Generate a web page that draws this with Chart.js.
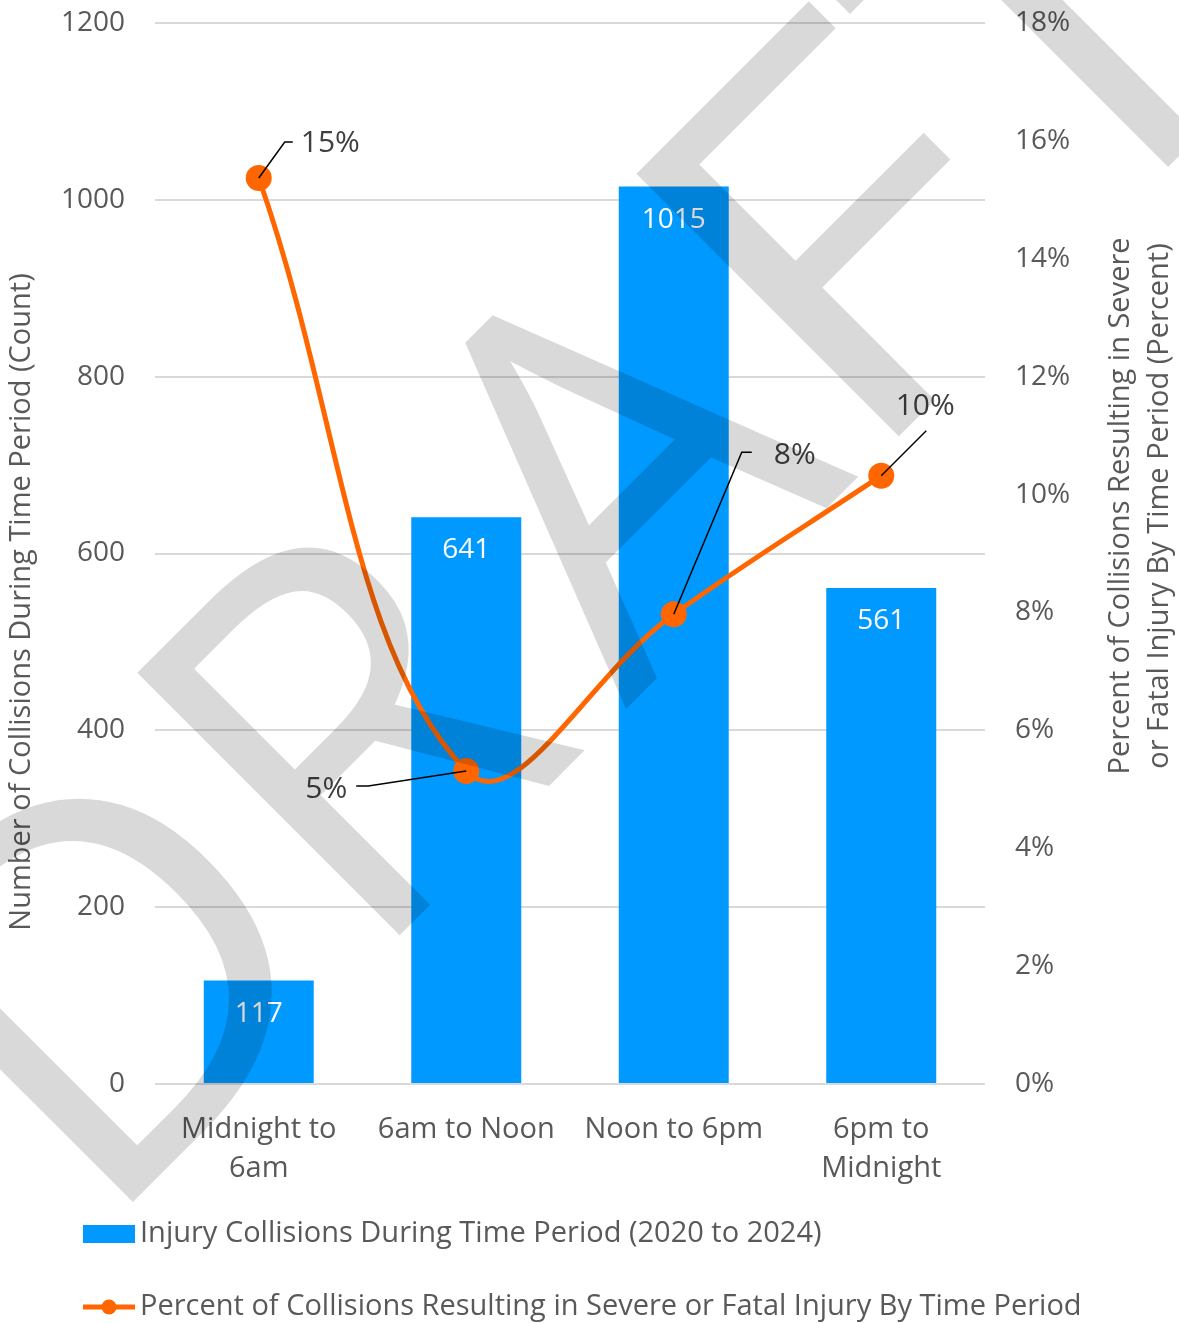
<!DOCTYPE html>
<html>
<head>
<meta charset="utf-8">
<script src="https://cdn.jsdelivr.net/npm/chart.js"></script>
<style>
  body { margin: 0; background: #fff; }
  #wrap { width: 1179px; height: 1323px; }
</style>
</head>
<body>
<div id="wrap"><canvas id="myChart" width="1179" height="1323"></canvas></div>
<script>
// data
var periods = [['Midnight to', '6am'], '6am to Noon', 'Noon to 6pm', ['6pm to', 'Midnight']];
var collisionCounts = [117, 641, 1015, 561];
var severePercent = [15.37, 5.31, 7.97, 10.32];
var percentLabels = ['15%', '5%', '8%', '10%'];

var countTicks = { min: 0, max: 1200, step: 200 };
var percentTicks = { min: 0, max: 18, step: 2 };

var barName = 'Injury Collisions During Time Period (2020 to 2024)';
var lineName = 'Percent of Collisions Resulting in Severe or Fatal Injury By Time Period';
var leftTitle = 'Number of Collisions During Time Period (Count)';
var rightTitle = ['Percent of Collisions Resulting in Severe', 'or Fatal Injury By Time Period (Percent)'];
var watermark = 'DRAFT';

var BLUE = '#0099ff';
var ORANGE = '#ff6600';
var GREY_TEXT = '#595959';
var FONT = '"Open Sans", sans-serif';

// where each percent label sits relative to its point (leader line elbow, end, text anchor)
var labelPlacement = [
  { elbow: [26, -36], end: [34, -36], text: [42, -35], align: 'left' },
  { elbow: [-98, 15], end: [-110, 15], text: [-119, 18], align: 'right' },
  { elbow: [68, -162], end: [78, -162], text: [100, -159], align: 'left' },
  { elbow: null, end: [45, -45], text: [44, -69], align: 'center' }
];
// extra spacing pushed in front of each watermark letter, and a width stretch per letter
var watermarkShift = [0, 0, 50, 47, 98];
var watermarkStretch = [1, 1, 1, 1.18, 1];

Chart.defaults.font.family = FONT;
Chart.defaults.color = GREY_TEXT;

// bar value labels, percent labels with leader lines, axis titles, legend and the watermark
var extras = {
  id: 'extras',
  afterDatasetsDraw: function (chart) {
    var ctx = chart.ctx;
    var bars = chart.getDatasetMeta(1).data;
    var pts = chart.getDatasetMeta(0).data;

    ctx.save();
    ctx.font = '28px ' + FONT;
    ctx.fillStyle = '#ffffff';
    ctx.textAlign = 'center';
    ctx.textBaseline = 'middle';
    bars.forEach(function (b, i) {
      ctx.fillText(String(collisionCounts[i]), b.x, b.y + 33);
    });

    // percent labels
    pts.forEach(function (p, i) {
      var pl = labelPlacement[i];
      ctx.strokeStyle = '#000000';
      ctx.lineWidth = 1.5;
      ctx.beginPath();
      ctx.moveTo(p.x, p.y);
      if (pl.elbow) ctx.lineTo(p.x + pl.elbow[0], p.y + pl.elbow[1]);
      ctx.lineTo(p.x + pl.end[0], p.y + pl.end[1]);
      ctx.stroke();
      ctx.font = '500 30px ' + FONT;
      ctx.fillStyle = '#404040';
      ctx.textAlign = pl.align;
      ctx.fillText(percentLabels[i], p.x + pl.text[0], p.y + pl.text[1]);
    });
    ctx.restore();
  },
  afterDraw: function (chart) {
    var ctx = chart.ctx;
    ctx.save();

    // axis titles
    ctx.fillStyle = GREY_TEXT;
    ctx.font = '29px ' + FONT;
    ctx.textAlign = 'center';
    ctx.textBaseline = 'middle';
    ctx.save();
    ctx.translate(22, 602);
    ctx.rotate(-Math.PI / 2);
    ctx.fillText(leftTitle, 0, 0);
    ctx.restore();
    ctx.save();
    ctx.translate(1121, 506);
    ctx.rotate(-Math.PI / 2);
    ctx.fillText(rightTitle[0], 0, 0);
    ctx.fillText(rightTitle[1], 0, 39);
    ctx.restore();

    // legend
    ctx.textAlign = 'left';
    ctx.fillStyle = BLUE;
    ctx.fillRect(83, 1225, 52, 18);
    ctx.strokeStyle = ORANGE;
    ctx.lineWidth = 5;
    ctx.beginPath();
    ctx.moveTo(83, 1307);
    ctx.lineTo(135, 1307);
    ctx.stroke();
    ctx.fillStyle = ORANGE;
    ctx.beginPath();
    ctx.arc(109, 1307, 7.5, 0, Math.PI * 2);
    ctx.fill();
    ctx.fillStyle = GREY_TEXT;
    ctx.fillText(barName, 140, 1234);
    ctx.fillText(lineName, 140, 1307);

    // DRAFT watermark over everything, one letter at a time
    ctx.translate(97, 1238);
    ctx.rotate(-Math.PI / 4);
    ctx.font = '520px ' + FONT;
    ctx.textBaseline = 'alphabetic';
    ctx.fillStyle = 'rgba(0, 0, 0, 0.15)';
    for (var i = 0; i < watermark.length; i++) {
      var x = ctx.measureText(watermark.slice(0, i)).width + watermarkShift[i];
      ctx.save();
      ctx.translate(x, 0);
      ctx.scale(watermarkStretch[i], 1);
      ctx.fillText(watermark[i], 0, 0);
      ctx.restore();
    }
    ctx.restore();
  }
};

function noPad(s) { s.paddingTop = 0; s.paddingBottom = 0; }

var ctx = document.getElementById('myChart').getContext('2d');
var chart = new Chart(ctx, {
  type: 'bar',
  data: {
    labels: periods,
    datasets: [
      {
        type: 'line',
        label: lineName,
        data: severePercent,
        yAxisID: 'y1',
        borderColor: ORANGE,
        backgroundColor: ORANGE,
        borderWidth: 5,
        pointRadius: 13,
        pointBorderWidth: 0,
        pointBackgroundColor: ORANGE,
        tension: 0.4,
        fill: false,
        order: 0
      },
      {
        type: 'bar',
        label: barName,
        data: collisionCounts,
        yAxisID: 'y',
        backgroundColor: BLUE,
        barPercentage: 1,
        categoryPercentage: 0.53,
        order: 1
      }
    ]
  },
  options: {
    responsive: false,
    animation: false,
    devicePixelRatio: 1,
    layout: { padding: { top: 23, left: 0, right: 0, bottom: 0 } },
    plugins: {
      legend: { display: false },
      tooltip: { enabled: false }
    },
    scales: {
      x: {
        grid: { display: false },
        border: { display: false },
        ticks: { color: GREY_TEXT, font: { size: 29, lineHeight: 1.35 }, padding: 18, maxRotation: 0, autoSkip: false },
        afterFit: function (s) { s.height = 239; }
      },
      y: {
        position: 'left',
        min: countTicks.min,
        max: countTicks.max,
        ticks: {
          stepSize: countTicks.step,
          color: GREY_TEXT,
          font: { size: 28 },
          padding: 30,
          callback: function (v) { return String(v); }
        },
        grid: { color: '#d9d9d9', lineWidth: 2, drawTicks: false },
        border: { display: false },
        afterFit: function (s) { s.width = 155; noPad(s); }
      },
      y1: {
        position: 'right',
        min: percentTicks.min,
        max: percentTicks.max,
        ticks: {
          stepSize: percentTicks.step,
          color: GREY_TEXT,
          font: { size: 28 },
          padding: 30,
          callback: function (v) { return Math.round(v) + '%'; }
        },
        grid: { display: false, drawTicks: false },
        border: { display: false },
        afterFit: function (s) { s.width = 194; noPad(s); }
      }
    }
  },
  plugins: [extras]
});
</script>
</body>
</html>
